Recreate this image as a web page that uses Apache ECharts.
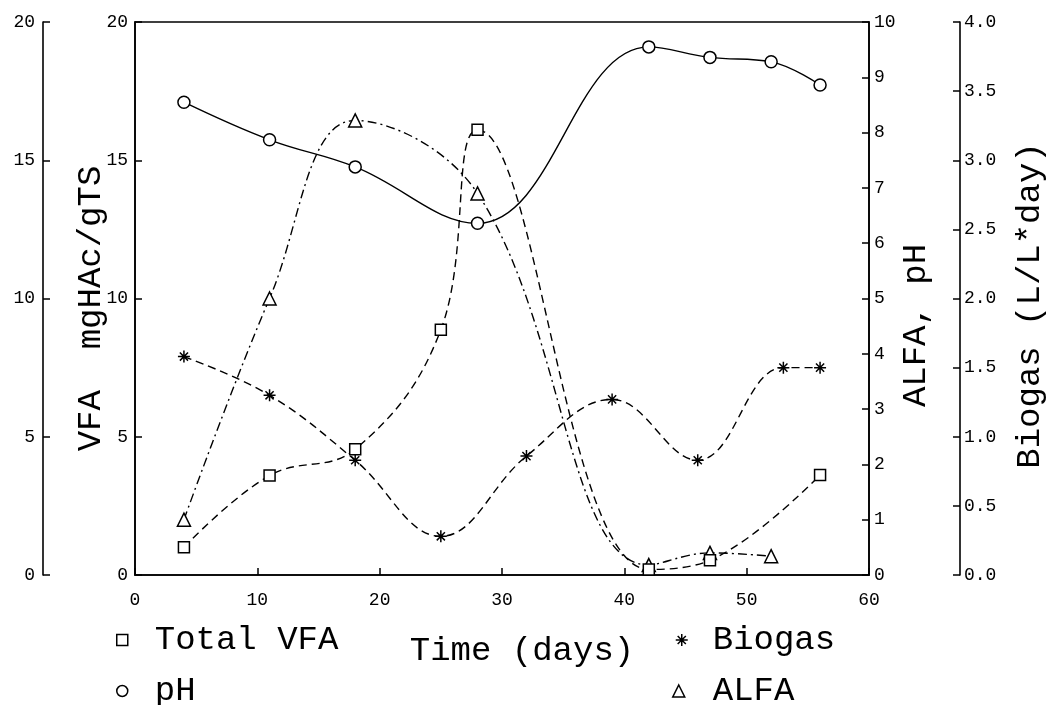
<!DOCTYPE html>
<html>
<head>
<meta charset="utf-8">
<script src="https://cdn.jsdelivr.net/npm/echarts@6/dist/echarts.min.js"></script>
<style>
html,body{margin:0;padding:0;background:#fff;}
#chart{width:1057px;height:705px;}
</style>
</head>
<body>
<div id="chart"></div>
<script>
// ---- data ----
const vfaDays    = [4, 11, 18, 25, 28, 42, 47, 56];
const vfaValues  = [1.0, 3.6, 4.55, 8.87, 16.1, 0.2, 0.53, 3.62];   // mgHAc/gTS

const phDays     = [4, 11, 18, 28, 42, 47, 52, 56];
const phValues   = [8.55, 7.87, 7.38, 6.36, 9.55, 9.36, 9.28, 8.86];

const alfaDays   = [4, 11, 18, 28, 42, 47, 52];
const alfaValues = [1.0, 5.0, 8.22, 6.9, 0.18, 0.4, 0.34];

const biogasDays   = [4, 11, 18, 25, 32, 39, 46, 53, 56];
const biogasValues = [1.58, 1.30, 0.83, 0.28, 0.86, 1.27, 0.83, 1.50, 1.50]; // L/L*day

const seriesNames = ['Total VFA', 'pH', 'Biogas', 'ALFA'];
const xName = 'Time (days)';
const vfaAxisName = 'VFA  mgHAc/gTS';
const alfaAxisName = 'ALFA, pH';
const biogasAxisName = 'Biogas (L/L*day)';

const pair = (xs, ys) => xs.map((x, i) => [x, ys[i]]);

// ---- styling ----
const FONT = 'Liberation Mono';
const BIG = 34;
const TICK = 18;
const ASTERISK = 'path://M5,0L5,10M0,5L10,5M1.6,1.6L8.4,8.4M1.6,8.4L8.4,1.6';
const markerStyle = {color: '#fff', borderColor: '#000', borderWidth: 1.5};
const axisLine = {show: true, lineStyle: {color: '#000', width: 1.6}};
const axisTick = {show: true, inside: true, length: 7, lineStyle: {color: '#000', width: 1.5}};
const tickLabel = {color: '#000', fontFamily: FONT, fontSize: TICK};
const nameStyle = {color: '#000', fontFamily: FONT, fontSize: BIG, lineHeight: 36};
const legendText = {color: '#000', fontFamily: FONT, fontSize: BIG, lineHeight: 30};

function legendItem(name, icon, left, top, size, gap) {
  return {
    orient: 'vertical', left: left, top: top, padding: 0,
    itemWidth: size, itemHeight: size,
    data: [{name: name, icon: icon}],
    itemStyle: markerStyle,
    textStyle: Object.assign({}, legendText, {padding: [0, 0, 0, gap]})
  };
}

const chart = echarts.init(document.getElementById('chart'), null, {renderer: 'canvas'});

chart.setOption({
  backgroundColor: '#fff',
  animation: false,
  grid: {left: 135, right: 188, top: 22, bottom: 130, show: true, borderColor: '#000', borderWidth: 1.6, backgroundColor: 'transparent'},
  legend: [
    legendItem(seriesNames[0], 'rect', 116, 623, 11, 22),
    legendItem(seriesNames[1], 'circle', 116, 674, 11, 22),
    legendItem(seriesNames[2], ASTERISK, 675, 623, 12, 20),
    legendItem(seriesNames[3], 'triangle', 672, 674, 12, 23)
  ],
  xAxis: {
    type: 'value', min: 0, max: 60, interval: 10,
    name: xName, nameLocation: 'middle', nameGap: 58, nameMoveOverlap: false,
    nameTextStyle: Object.assign({}, nameStyle, {padding: [0, 0, 0, 40]}),
    axisLine: axisLine, axisTick: axisTick,
    axisLabel: Object.assign({}, tickLabel, {margin: 16}),
    splitLine: {show: false}
  },
  yAxis: [
    { // main left VFA axis
      type: 'value', min: 0, max: 20, interval: 5, position: 'left', offset: 0,
      name: vfaAxisName, nameLocation: 'middle', nameGap: 26, nameRotate: 90, nameMoveOverlap: false,
      nameTextStyle: Object.assign({}, nameStyle, {padding: [0, 20, 0, 0]}),
      axisLine: axisLine, axisTick: axisTick,
      axisLabel: Object.assign({}, tickLabel, {margin: 7}),
      splitLine: {show: false}
    },
    { // outer left VFA axis (duplicate scale)
      type: 'value', min: 0, max: 20, interval: 5, position: 'left', offset: 92,
      axisLine: axisLine, axisTick: axisTick,
      axisLabel: Object.assign({}, tickLabel, {margin: 8}),
      splitLine: {show: false}
    },
    { // right ALFA, pH axis
      type: 'value', min: 0, max: 10, interval: 1, position: 'right', offset: 0,
      name: alfaAxisName, nameLocation: 'middle', nameGap: 29, nameRotate: 90, nameMoveOverlap: false,
      nameTextStyle: Object.assign({}, nameStyle, {padding: [0, 54, 0, 0]}),
      axisLine: axisLine, axisTick: axisTick,
      axisLabel: Object.assign({}, tickLabel, {margin: 5}),
      splitLine: {show: false}
    },
    { // far right Biogas axis
      type: 'value', min: 0, max: 4, interval: 0.5, position: 'right', offset: 91,
      name: biogasAxisName, nameLocation: 'middle', nameGap: 52, nameRotate: 90, nameMoveOverlap: false,
      nameTextStyle: Object.assign({}, nameStyle, {padding: [0, 14, 0, 0]}),
      axisLine: axisLine, axisTick: axisTick,
      axisLabel: Object.assign({}, tickLabel, {margin: 4, formatter: v => v.toFixed(1)}),
      splitLine: {show: false}
    }
  ],
  series: [
    {
      name: seriesNames[3], type: 'line', yAxisIndex: 2, smooth: 0.4,
      data: pair(alfaDays, alfaValues),
      symbol: 'triangle', symbolSize: 13, itemStyle: markerStyle,
      lineStyle: {color: '#000', width: 1.4, type: [9, 4, 2, 4]}
    },
    {
      name: seriesNames[2], type: 'line', yAxisIndex: 3, smooth: 0.4,
      data: pair(biogasDays, biogasValues),
      symbol: ASTERISK, symbolSize: 12, itemStyle: markerStyle,
      lineStyle: {color: '#000', width: 1.4, type: [8, 5]}
    },
    {
      name: seriesNames[1], type: 'line', yAxisIndex: 2, smooth: 0.4,
      data: pair(phDays, phValues),
      symbol: 'circle', symbolSize: 12, itemStyle: markerStyle,
      lineStyle: {color: '#000', width: 1.4, type: 'solid'}
    },
    {
      name: seriesNames[0], type: 'line', yAxisIndex: 0, smooth: 0.4,
      data: pair(vfaDays, vfaValues),
      symbol: 'rect', symbolSize: 11, itemStyle: markerStyle,
      lineStyle: {color: '#000', width: 1.4, type: [8, 5]}
    }
  ]
});
</script>
</body>
</html>
